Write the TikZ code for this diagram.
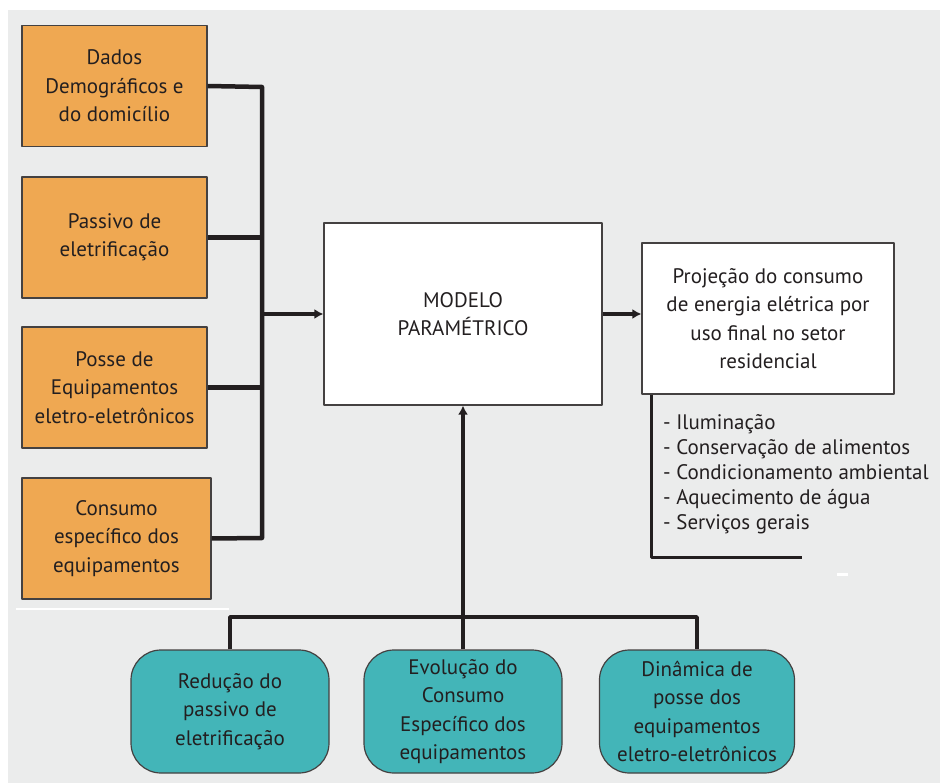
\documentclass[tikz,border=0pt]{standalone}
\usepackage{fontspec}
\setmainfont{PT Sans}
\usetikzlibrary{arrows.meta}
\definecolor{boxorange}{RGB}{239,168,82}
\definecolor{boxteal}{RGB}{67,181,184}
\definecolor{bggray}{RGB}{235,236,236}
\definecolor{inkdark}{RGB}{35,31,32}
\begin{document}
\begin{tikzpicture}[x=1pt,y=-1pt,>={Latex[length=9pt,width=10pt]},line join=round,
  txt/.style={font=\fontsize{21}{28.5}\selectfont,text=inkdark,align=center,inner sep=0pt},
  inbox/.style={txt,draw=inkdark!85,line width=1.2pt,fill=boxorange,minimum width=185pt,minimum height=121pt},
  whitebox/.style={txt,draw=inkdark!85,line width=1.2pt,fill=white},
  factorbox/.style={txt,draw=inkdark!85,line width=1.2pt,fill=boxteal,rounded corners=30pt,minimum width=198pt,minimum height=123pt},
  bus/.style={line width=4.5pt,draw=inkdark},
  feed/.style={line width=3.5pt,draw=inkdark}]
  \useasboundingbox (0,0) rectangle (940,783);
  \fill[white] (0,0) rectangle (940,783);
  \fill[bggray] (8,10) rectangle (940,783);
  \draw[white,line width=2pt] (16,609) -- (229,609);
  \draw[white,line width=3pt] (837,574) -- (848,574);
  % entradas
  \node[inbox] (dados) at (114.5,86) {Dados\\Demográficos e\\do domicílio};
  \node[inbox] (passivo) at (114.5,237.5) {Passivo de\\eletrificação};
  \node[inbox] (posse) at (114.5,387.5) {Posse de\\Equipamentos\\eletro-eletrônicos};
  \node[inbox,minimum width=189pt] (consumo) at (116.5,538.5) {Consumo\\específico dos\\equipamentos};
  % modelo e saida
  \node[whitebox,minimum width=278pt,minimum height=182pt] (modelo) at (463,314) {MODELO\\PARAMÉTRICO};
  \node[whitebox,minimum width=252pt,minimum height=151pt] (proj) at (768,318.5)
    {Projeção do consumo\\de energia elétrica por\\uso final no setor\\residencial};
  \node[txt,font=\fontsize{21}{25.2}\selectfont,align=left,anchor=north west] (usos) at (663,414)
    {- Iluminação\\- Conservação de alimentos\\- Condicionamento ambiental\\- Aquecimento de água\\- Serviços gerais};
  % fatores
  \node[factorbox] (reducao) at (230,711.5) {Redução do\\passivo de\\eletrificação};
  \node[factorbox] (evolucao) at (463,711.5) {Evolução do\\Consumo\\Específico dos\\equipamentos};
  \node[factorbox,minimum width=195pt] (dinamica) at (697,711.5) {Dinâmica de\\posse dos\\equipamentos\\eletro-eletrônicos};
  \coordinate (busT) at (262,87);
  \coordinate (busB) at (262,538);
  \coordinate (hM) at (463,617);
  \coordinate (brk) at (802,557);
  % ligacoes
  \draw[bus] (dados.east) -- (busT) -- (busB) -- (consumo.east);
  \draw[bus] (passivo.east) -- (passivo.east -| busT);
  \draw[bus] (posse.east) -- (posse.east -| busT);
  \draw[bus,->] (modelo.west -| busT) -- (modelo.west);
  \draw[bus,->] (modelo.east) -- (modelo.east -| proj.west);
  \draw[feed] (reducao.north) -- (reducao.north |- hM) -- (dinamica.north |- hM) -- (dinamica.north);
  \draw[feed,->] (evolucao.north) -- (modelo.south);
  \draw[line width=3pt,draw=inkdark] (proj.south west) ++(10,0) coordinate (brkT) -- (brkT |- brk) -- (brk);
\end{tikzpicture}
\end{document}
